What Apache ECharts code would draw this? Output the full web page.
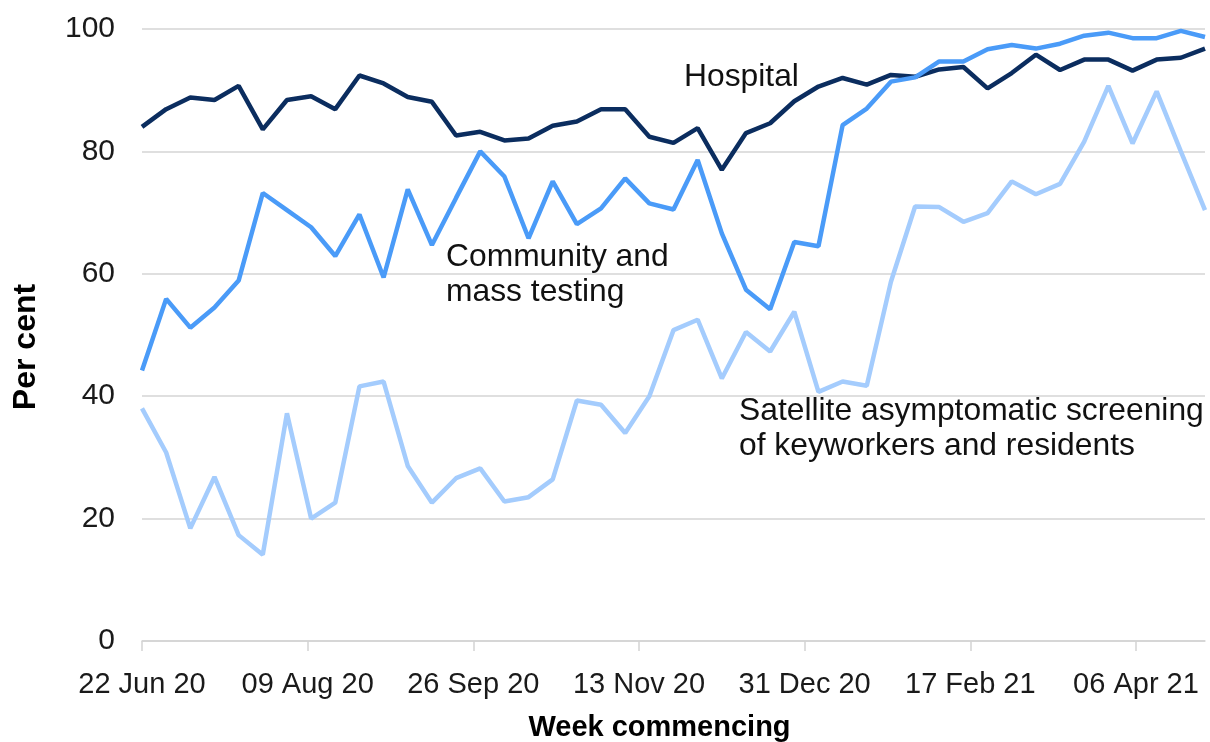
<!DOCTYPE html>
<html lang="en">

<head>
  <meta charset="UTF-8">
  <title>Test positivity by testing route</title>
  <script src="https://cdn.jsdelivr.net/npm/echarts@6.0.0/dist/echarts.min.js"></script>
  <style>
    html,
    body {
      height: 100%;
      margin: 0;
      padding: 0;
      background-color: #ffffff;
    }

    #chart {
      width: 1210px;
      height: 742px;
    }
  </style>
</head>

<body>
  <div id="chart"></div>
  <script>
    // weekly series, first week commencing 22 Jun 20
    const hospital = [84.0, 86.9, 88.8, 88.4, 90.7, 83.6, 88.4, 89.0, 86.9, 92.4, 91.1, 88.9, 88.1, 82.6, 83.2,
      81.8, 82.1, 84.2, 84.9, 86.9, 86.9, 82.4, 81.4, 83.8, 77.0, 83.0, 84.6, 88.2, 90.6, 92.0,
      90.9, 92.5, 92.2, 93.4, 93.8, 90.3, 92.8, 95.8, 93.3, 95.0, 95.0, 93.2, 95.0, 95.3, 96.8];
    const community = [44.2, 55.9, 51.2, 54.5, 58.9, 73.2, 70.4, 67.6, 62.9, 69.7, 59.4, 73.8, 64.7, 72.4, 80.0,
      75.9, 65.8, 75.1, 68.1, 70.7, 75.6, 71.5, 70.5, 78.6, 66.6, 57.4, 54.2, 65.2, 64.5, 84.3,
      87.0, 91.4, 92.1, 94.7, 94.7, 96.7, 97.4, 96.8, 97.6, 98.9, 99.4, 98.5, 98.5, 99.7, 98.7];
    const satellite = [38.0, 30.8, 18.4, 26.8, 17.3, 14.1, 37.2, 20.0, 22.6, 41.6, 42.4, 28.6, 22.6, 26.6, 28.2,
      22.8, 23.5, 26.4, 39.3, 38.6, 34.0, 40.0, 50.8, 52.5, 42.9, 50.5, 47.3, 53.8, 40.7, 42.4,
      41.7, 58.7, 71.0, 70.9, 68.5, 69.9, 75.1, 73.0, 74.7, 81.6, 90.7, 81.3, 89.8, 80.0, 70.4];

    // x axis ticks (days after first week) and their labels
    const tickDays = [0, 48, 96, 144, 192, 240, 288];
    const tickLabels = ['22 Jun 20', '09 Aug 20', '26 Sep 20', '13 Nov 20', '31 Dec 20', '17 Feb 21', '06 Apr 21'];

    const font = 'Liberation Sans, Arial, sans-serif';
    const lastDay = (hospital.length - 1) * 7;

    // pair each value with its week's day offset
    const toPoints = arr => arr.map((v, i) => [i * 7, v]);

    const chart = echarts.init(document.getElementById('chart'));
    const option = {
      animation: false,
      grid: {
        left: 142,
        right: 5,
        top: 29,
        bottom: 101,
        outerBoundsMode: 'none'
      },
      xAxis: {
        type: 'value',
        min: 0,
        max: lastDay,
        name: 'Week commencing',
        nameLocation: 'middle',
        nameGap: 72,
        nameTextStyle: {
          fontFamily: font,
          fontSize: 29,
          fontWeight: 'bold',
          color: '#000',
          padding: [0, 28, 0, 0]
        },
        axisLine: {
          show: true,
          lineStyle: { color: '#d4d4d4', width: 1.5 }
        },
        axisTick: {
          show: true,
          length: 10,
          customValues: tickDays,
          lineStyle: { color: '#d4d4d4', width: 1.5 }
        },
        axisLabel: {
          customValues: tickDays,
          margin: 29,
          fontFamily: font,
          fontSize: 29,
          color: '#1a1a1a',
          formatter: v => tickLabels[tickDays.indexOf(v)] || ''
        },
        splitLine: { show: false }
      },
      yAxis: {
        type: 'value',
        min: 0,
        max: 100,
        interval: 20,
        name: 'Per cent',
        nameLocation: 'middle',
        nameGap: 100,
        nameTextStyle: {
          fontFamily: font,
          fontSize: 32,
          fontWeight: 'bold',
          color: '#000',
          padding: [0, 24, 0, 0]
        },
        axisLine: { show: false },
        axisTick: { show: false },
        axisLabel: {
          margin: 27,
          fontFamily: font,
          fontSize: 30,
          color: '#1a1a1a'
        },
        splitLine: {
          lineStyle: { color: '#d4d4d4', width: 1.5 }
        }
      },
      series: [{
        name: 'Hospital',
        type: 'line',
        data: toPoints(hospital),
        showSymbol: false,
        lineStyle: { color: '#0b2d5f', width: 4.5 }
      }, {
        name: 'Community and mass testing',
        type: 'line',
        data: toPoints(community),
        showSymbol: false,
        lineStyle: { color: '#4a9bf8', width: 4.5 }
      }, {
        name: 'Satellite asymptomatic screening of keyworkers and residents',
        type: 'line',
        data: toPoints(satellite),
        showSymbol: false,
        lineStyle: { color: '#a4ccfd', width: 4.5 }
      }],
      graphic: [{
        type: 'text',
        left: 684,
        top: 61,
        style: { text: 'Hospital', font: '31.8px ' + font, fill: '#111' }
      }, {
        type: 'text',
        left: 446,
        top: 240,
        style: { text: 'Community and\nmass testing', font: '31.8px ' + font, lineHeight: 35, fill: '#111' }
      }, {
        type: 'text',
        left: 739,
        top: 394,
        style: {
          text: 'Satellite asymptomatic screening\nof keyworkers and residents',
          font: '31.8px ' + font,
          lineHeight: 35,
          fill: '#111'
        }
      }]
    };
    chart.setOption(option);
  </script>
</body>

</html>
